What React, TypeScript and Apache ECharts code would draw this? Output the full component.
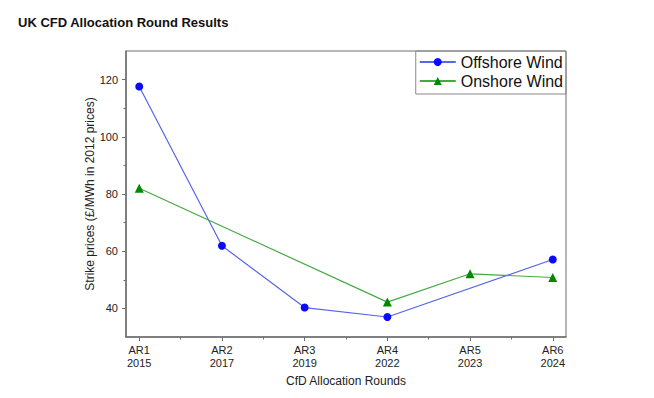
import React, { useEffect, useRef } from "react";
import * as echarts from "echarts";

const rounds = ["AR1", "AR2", "AR3", "AR4", "AR5", "AR6"];
const years = ["2015", "2017", "2019", "2022", "2023", "2024"];
const offshore: (number | null)[] = [117.6, 61.9, 40.3, 37.0, null, 57.1];
const onshore: (number | null)[] = [82.0, null, null, 42.2, 52.1, 50.8];
const yMajorTicks = [40, 60, 80, 100, 120];
const yMinorTicks = [50, 70, 90, 110];
const xMinorTicks = [0.5, 1.5, 2.5, 3.5, 4.5];

const FONT = "Liberation Sans, Arial, sans-serif";

function toPairs(vals: (number | null)[]) {
  const out: [number, number][] = [];
  vals.forEach((v, i) => {
    if (v !== null) out.push([i, v]);
  });
  return out;
}

export default function App() {
  const ref = useRef<HTMLDivElement>(null);
  useEffect(() => {
    document.body.style.margin = "0";
    if (!ref.current) return;
    const chart = echarts.init(ref.current, undefined, { renderer: "svg" });
    const axisColor = "#6e6e6e";
    const xIdx = rounds.map((_, i) => i);
    chart.setOption({
      animation: false,
      backgroundColor: "#ffffff",
      title: {
        text: "UK CFD Allocation Round Results",
        left: 13,
        top: 11,
        textStyle: { fontFamily: FONT, fontSize: 13, fontWeight: "bold", color: "#111" },
      },
      legend: {
        orient: "vertical",
        right: 88,
        top: 51,
        borderColor: "#888",
        borderWidth: 1,
        padding: [3, 3, 5, 3],
        itemGap: 3,
        itemWidth: 36,
        itemHeight: 10,
        textStyle: { fontFamily: FONT, fontSize: 16, color: "#111" },
        data: ["Offshore Wind", "Onshore Wind"],
      },
      grid: {
        left: 126,
        right: 88,
        top: 51,
        bottom: 61,
        show: true,
        borderColor: axisColor,
        borderWidth: 1,
        backgroundColor: "transparent",
      },
      xAxis: [
        {
          type: "value",
          min: -0.16,
          max: 5.16,
          name: "CfD Allocation Rounds",
          nameLocation: "middle",
          nameGap: 38,
          nameMoveOverlap: false,
          nameTextStyle: { fontFamily: FONT, fontSize: 12, color: "#222" },
          axisLine: { show: true, onZero: false, lineStyle: { color: axisColor, width: 1.5 } },
          axisTick: { show: true, customValues: xIdx, length: 4, lineStyle: { color: axisColor } },
          axisLabel: {
            customValues: xIdx,
            formatter: (v: number) => `${rounds[Math.round(v)]}\n${years[Math.round(v)]}`,
            fontFamily: FONT,
            fontSize: 11,
            color: "#222",
            lineHeight: 13,
            margin: 6,
          },
          splitLine: { show: false },
        },
        {
          type: "value",
          min: -0.16,
          max: 5.16,
          position: "bottom",
          axisLine: { show: false, onZero: false },
          axisTick: { show: true, customValues: xMinorTicks, length: 2.5, lineStyle: { color: axisColor } },
          axisLabel: { show: false },
          splitLine: { show: false },
        },
      ],
      yAxis: [
        {
          type: "value",
          min: 30,
          max: 130,
          name: "Strike prices (£/MWh in 2012 prices)",
          nameLocation: "middle",
          nameGap: 30,
          nameMoveOverlap: false,
          nameTextStyle: { fontFamily: FONT, fontSize: 12, color: "#222" },
          axisLine: { show: true, onZero: false, lineStyle: { color: axisColor, width: 1.5 } },
          axisTick: { show: true, customValues: yMajorTicks, length: 4, lineStyle: { color: axisColor } },
          axisLabel: {
            customValues: yMajorTicks,
            fontFamily: FONT,
            fontSize: 11,
            color: "#222",
            margin: 8,
          },
          splitLine: { show: false },
        },
        {
          type: "value",
          min: 30,
          max: 130,
          position: "left",
          axisLine: { show: false, onZero: false },
          axisTick: { show: true, customValues: yMinorTicks, length: 2.5, lineStyle: { color: axisColor } },
          axisLabel: { show: false },
          splitLine: { show: false },
        },
      ],
      series: [
        {
          name: "Offshore Wind",
          type: "line",
          data: toPairs(offshore),
          symbol: "circle",
          symbolSize: 8,
          itemStyle: { color: "#0a0aff" },
          lineStyle: { color: "#5566e6", width: 1.2 },
        },
        {
          name: "Onshore Wind",
          type: "line",
          data: toPairs(onshore),
          symbol: "triangle",
          symbolSize: 9,
          itemStyle: { color: "#008a00" },
          lineStyle: { color: "#44aa44", width: 1.2 },
        },
      ],
    });
    return () => chart.dispose();
  }, []);
  return <div ref={ref} style={{ width: 654, height: 398 }} />;
}
